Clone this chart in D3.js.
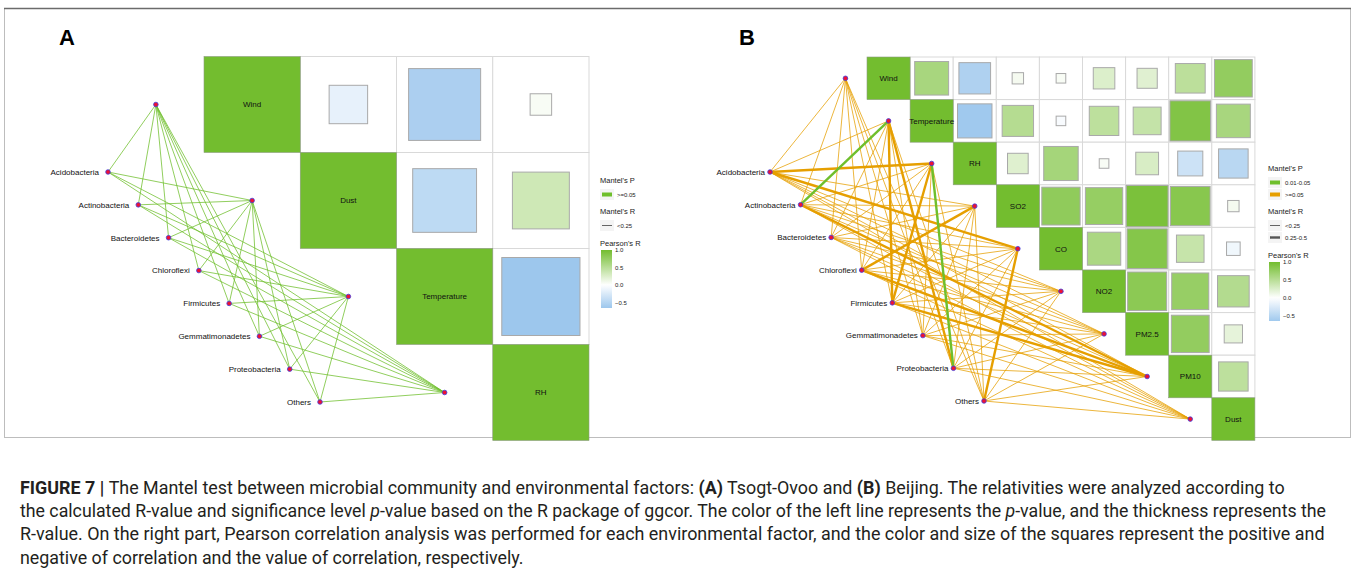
<!DOCTYPE html>
<html>
<head>
<meta charset="utf-8">
<script src="https://cdn.jsdelivr.net/npm/d3@7"></script>
<style>
  html, body { margin: 0; padding: 0; background: #ffffff; }
  svg { display: block; }
</style>
</head>
<body>
<svg id="fig" width="1355" height="579"></svg>
<script>
// ---------------- data ----------------
const species = ["Acidobacteria", "Actinobacteria", "Bacteroidetes", "Chloroflexi",
                 "Firmicutes", "Gemmatimonadetes", "Proteobacteria", "Others"];

// Panel A: Tsogt-Ovoo
const envA = ["Wind", "Dust", "Temperature", "RH"];
const pearsonA = [
  [1, -0.16, -0.56, 0.05],
  [null, 1, -0.44, 0.35],
  [null, null, 1, -0.66],
  [null, null, null, 1]
];
// Mantel r and p, rows = species, cols = envA
const mantelRA = [
  [0.12, 0.10, 0.14, 0.09],
  [0.08, 0.13, 0.11, 0.15],
  [0.10, 0.09, 0.12, 0.13],
  [0.11, 0.14, 0.10, 0.12],
  [0.09, 0.12, 0.13, 0.10],
  [0.13, 0.11, 0.09, 0.14],
  [0.10, 0.15, 0.12, 0.11],
  [0.07, 0.10, 0.08, 0.12]
];
const mantelPA = [
  [0.31, 0.42, 0.22, 0.55],
  [0.48, 0.26, 0.37, 0.19],
  [0.35, 0.51, 0.29, 0.24],
  [0.27, 0.18, 0.44, 0.33],
  [0.40, 0.30, 0.21, 0.46],
  [0.23, 0.36, 0.52, 0.17],
  [0.38, 0.15, 0.28, 0.34],
  [0.61, 0.41, 0.57, 0.30]
];

// Panel B: Beijing
const envB = ["Wind", "Temperature", "RH", "SO2", "CO", "NO2", "PM2.5", "PM10", "Dust"];
const pearsonB = [
  [1, 0.62, -0.54, 0.07, 0.05, 0.25, 0.22, 0.48, 0.77],
  [null, 1, -0.64, 0.53, -0.05, 0.47, 0.42, 0.89, 0.62],
  [null, null, 1, 0.23, 0.64, 0.05, 0.28, -0.34, -0.47],
  [null, null, null, 1, 0.79, 0.75, 0.94, 0.85, 0.07],
  [null, null, null, null, 1, 0.60, 0.87, 0.41, -0.10],
  [null, null, null, null, null, 1, 0.82, 0.74, 0.54],
  [null, null, null, null, null, null, 1, 0.77, 0.18],
  [null, null, null, null, null, null, null, 1, 0.47],
  [null, null, null, null, null, null, null, null, 1]
];
const mantelRB = [
  [0.12, 0.15, 0.31, 0.10, 0.27, 0.14, 0.11, 0.13, 0.09],
  [0.10, 0.33, 0.14, 0.12, 0.16, 0.13, 0.15, 0.29, 0.11],
  [0.08, 0.11, 0.13, 0.09, 0.12, 0.10, 0.14, 0.12, 0.07],
  [0.11, 0.14, 0.16, 0.28, 0.13, 0.12, 0.15, 0.26, 0.10],
  [0.09, 0.30, 0.27, 0.13, 0.15, 0.12, 0.14, 0.28, 0.11],
  [0.07, 0.10, 0.12, 0.08, 0.11, 0.09, 0.13, 0.10, 0.06],
  [0.10, 0.26, 0.29, 0.12, 0.14, 0.11, 0.13, 0.12, 0.08],
  [0.09, 0.13, 0.15, 0.11, 0.30, 0.12, 0.10, 0.14, 0.12]
];
const mantelPB = [
  [0.21, 0.34, 0.08, 0.45, 0.09, 0.27, 0.52, 0.31, 0.66],
  [0.48, 0.03, 0.29, 0.37, 0.22, 0.40, 0.18, 0.07, 0.55],
  [0.62, 0.41, 0.33, 0.58, 0.36, 0.49, 0.24, 0.39, 0.71],
  [0.35, 0.26, 0.19, 0.06, 0.30, 0.43, 0.28, 0.09, 0.50],
  [0.57, 0.07, 0.08, 0.32, 0.25, 0.38, 0.30, 0.06, 0.44],
  [0.69, 0.47, 0.36, 0.61, 0.42, 0.53, 0.27, 0.46, 0.74],
  [0.40, 0.09, 0.04, 0.33, 0.28, 0.45, 0.34, 0.37, 0.63],
  [0.51, 0.30, 0.22, 0.42, 0.07, 0.36, 0.48, 0.29, 0.39]
];

const pearsonTicks = [1.0, 0.5, 0.0, -0.5];
const pLevels = ["0.01-0.05", ">=0.05"];
const rLevels = ["<0.25", "0.25-0.5"];

const captionLines = [
  [["FIGURE 7 | ", "b"], ["The Mantel test between microbial community and environmental factors: ", ""], ["(A)", "b"], [" Tsogt-Ovoo and ", ""], ["(B)", "b"], [" Beijing. The relativities were analyzed according to", ""]],
  [["the calculated R-value and significance level ", ""], ["p", "i"], ["-value based on the R package of ggcor. The color of the left line represents the ", ""], ["p", "i"], ["-value, and the thickness represents the", ""]],
  [["R-value. On the right part, Pearson correlation analysis was performed for each environmental factor, and the color and size of the squares represent the positive and", ""]],
  [["negative of correlation and the value of correlation, respectively.", ""]]
];

// ---------------- styling ----------------
const FONT = "'Liberation Sans', Arial, Helvetica, sans-serif";
const GREEN = "#6fbf2c";
const ORANGE = "#e69f00";
const fillScale = d3.scaleLinear().domain([-1, 0, 1])
  .range(["#6aaae4", "#ffffff", "#73bd2f"]).interpolate(d3.interpolateRgb);

const pCat = p => p < 0.01 ? "<0.01" : (p < 0.05 ? "0.01-0.05" : ">=0.05");
const rCat = r => r < 0.25 ? "<0.25" : (r < 0.5 ? "0.25-0.5" : ">=0.5");
const widthOf = d3.scaleOrdinal().domain(["<0.25", "0.25-0.5", ">=0.5"]).range([0.9, 2.4, 3.6]);

const svg = d3.select("#fig");

// figure frame
svg.append("rect").attr("x", 4.5).attr("y", 8.5).attr("width", 1346).attr("height", 429)
  .attr("fill", "none").attr("stroke", "#bdbdbd").attr("stroke-width", 1);
svg.append("line").attr("x1", 4).attr("x2", 1351).attr("y1", 8.5).attr("y2", 8.5)
  .attr("stroke", "#6b6b6b").attr("stroke-width", 1.6);

function drawPanel(cfg) {
  const g = svg.append("g");
  const env = cfg.env, n = env.length;
  const x = d3.scaleBand().domain(env).range([cfg.heat.x, cfg.heat.x + n * cfg.heat.w]);
  const y = d3.scaleBand().domain(env).range([cfg.heat.y, cfg.heat.y + n * cfg.heat.h]);
  const bw = x.bandwidth(), bh = y.bandwidth();

  const cells = [];
  cfg.pearson.forEach((row, i) => row.forEach((v, j) => {
    if (v !== null) cells.push({ row: env[i], col: env[j], r: v, diag: i === j });
  }));

  // grid for the upper triangle
  g.append("g").selectAll("rect").data(cells.filter(c => !c.diag)).join("rect")
    .attr("x", c => x(c.col)).attr("y", c => y(c.row))
    .attr("width", bw).attr("height", bh)
    .attr("fill", "#ffffff").attr("stroke", "#d9d9d9").attr("stroke-width", 1);

  // correlation squares, side proportional to sqrt(|r|)
  g.append("g").selectAll("rect").data(cells).join("rect")
    .attr("x", c => x(c.col) + bw * (1 - Math.sqrt(Math.abs(c.r))) / 2)
    .attr("y", c => y(c.row) + bh * (1 - Math.sqrt(Math.abs(c.r))) / 2)
    .attr("width", c => bw * Math.sqrt(Math.abs(c.r)))
    .attr("height", c => bh * Math.sqrt(Math.abs(c.r)))
    .attr("fill", c => fillScale(c.r))
    .attr("stroke", c => c.diag ? "#8c9c80" : "#a9a9a9").attr("stroke-width", c => c.diag ? 0.6 : 1);

  // diagonal labels
  g.append("g").selectAll("text").data(cells.filter(c => c.diag)).join("text")
    .attr("x", c => x(c.col) + bw / 2).attr("y", c => y(c.row) + bh / 2)
    .attr("dy", "0.35em").attr("text-anchor", "middle")
    .attr("font-family", FONT).attr("font-size", 8).attr("fill", "#111")
    .text(c => c.col);

  // node layout
  const envX = e => x(e) + bw / 2 - bw;
  const envY = e => y(e) + bh / 2;
  const spX = d3.scalePoint().domain(species).range([cfg.sp.x0, cfg.sp.x1]);
  const spY = d3.scalePoint().domain(species).range([cfg.sp.y0, cfg.sp.y1]);

  const colorOf = d3.scaleOrdinal().domain(cfg.pLevels).range(cfg.pColors);

  const links = [];
  species.forEach((s, i) => env.forEach((e, j) => {
    links.push({ s, e, r: cfg.mantelR[i][j], p: cfg.mantelP[i][j] });
  }));
  // thin links first, thick ones on top
  links.sort((a, b) => a.r - b.r);

  g.append("g").attr("fill", "none").selectAll("line").data(links).join("line")
    .attr("x1", d => spX(d.s)).attr("y1", d => spY(d.s))
    .attr("x2", d => envX(d.e)).attr("y2", d => envY(d.e))
    .attr("stroke", d => colorOf(pCat(d.p)))
    .attr("stroke-width", d => widthOf(rCat(d.r)))
    .attr("stroke-opacity", d => rCat(d.r) === "<0.25" ? 0.85 : 1);

  const nodes = species.map(s => ({ x: spX(s), y: spY(s) }))
    .concat(env.map(e => ({ x: envX(e), y: envY(e) })));
  g.append("g").selectAll("circle").data(nodes).join("circle")
    .attr("cx", d => d.x).attr("cy", d => d.y).attr("r", 2.3)
    .attr("fill", "#ee1133").attr("stroke", "#3d3de0").attr("stroke-width", 0.8);

  g.append("g").selectAll("text").data(species).join("text")
    .attr("x", s => spX(s) - cfg.labelGap).attr("y", s => spY(s))
    .attr("dy", "0.35em").attr("text-anchor", "end")
    .attr("font-family", FONT).attr("font-size", 8).attr("fill", "#111")
    .text(s => s);

  // panel letter
  g.append("text").attr("x", cfg.letter.x).attr("y", cfg.letter.y)
    .attr("font-family", FONT).attr("font-weight", "bold").attr("font-size", 22)
    .attr("fill", "#000").text(cfg.letter.t);

  // legend
  const L = cfg.legend;
  const lg = g.append("g").attr("font-family", FONT).attr("fill", "#222");
  let yy = L.y;
  lg.append("text").attr("x", L.x).attr("y", yy).attr("font-size", 7.5).text("Mantel's P");
  yy += 6;
  cfg.pLevels.forEach(lv => {
    lg.append("rect").attr("x", L.x).attr("y", yy).attr("width", 14).attr("height", 11).attr("fill", "#f4f4f4");
    lg.append("rect").attr("x", L.x + 2).attr("y", yy + 3.5).attr("width", 10).attr("height", 4).attr("fill", colorOf(lv));
    lg.append("text").attr("x", L.x + 17).attr("y", yy + 5.5).attr("dy", "0.35em").attr("font-size", 6).text(lv);
    yy += 12;
  });
  yy += 13;
  lg.append("text").attr("x", L.x).attr("y", yy).attr("font-size", 7.5).text("Mantel's R");
  yy += 6;
  cfg.rLevels.forEach(lv => {
    lg.append("rect").attr("x", L.x).attr("y", yy).attr("width", 14).attr("height", 11).attr("fill", "#f4f4f4");
    lg.append("line").attr("x1", L.x + 2).attr("x2", L.x + 12).attr("y1", yy + 5.5).attr("y2", yy + 5.5)
      .attr("stroke", "#555").attr("stroke-width", widthOf(lv));
    lg.append("text").attr("x", L.x + 17).attr("y", yy + 5.5).attr("dy", "0.35em").attr("font-size", 6).text(lv);
    yy += 12;
  });
  yy += 14;
  lg.append("text").attr("x", L.x).attr("y", yy).attr("font-size", 7.5).text("Pearson's R");
  yy += 4;
  const allR = cells.map(c => c.r);
  const rMin = d3.min(allR), rMax = d3.max(allR);
  const barH = L.barH;
  const cb = d3.scaleLinear().domain([rMax, rMin]).range([yy, yy + barH]);
  const gradId = "grad" + cfg.letter.t;
  const grad = svg.append("defs").append("linearGradient").attr("id", gradId)
    .attr("x1", 0).attr("x2", 0).attr("y1", 0).attr("y2", 1);
  d3.range(0, 1.0001, 0.05).forEach(t => {
    grad.append("stop").attr("offset", t).attr("stop-color", fillScale(rMax + (rMin - rMax) * t));
  });
  lg.append("rect").attr("x", L.x + 1).attr("y", yy).attr("width", 11).attr("height", barH)
    .attr("fill", `url(#${gradId})`);
  lg.selectAll("text.tick").data(pearsonTicks).join("text").attr("class", "tick")
    .attr("x", L.x + 15).attr("y", v => cb(v)).attr("dy", "0.35em").attr("font-size", 6)
    .text(v => d3.format(".1f")(v));
}

drawPanel({
  env: envA, pearson: pearsonA, mantelR: mantelRA, mantelP: mantelPA,
  heat: { x: 204, y: 56.5, w: 96.25, h: 96 },
  sp: { x0: 108, y0: 172, x1: 320, y1: 402 },
  labelGap: 9,
  pLevels: [">=0.05"], pColors: [GREEN],
  rLevels: ["<0.25"],
  letter: { x: 59, y: 45, t: "A" },
  legend: { x: 600, y: 183, barH: 58 }
});

drawPanel({
  env: envB, pearson: pearsonB, mantelR: mantelRB, mantelP: mantelPB,
  heat: { x: 867, y: 57, w: 43.1, h: 42.6 },
  sp: { x0: 770, y0: 172, x1: 984, y1: 401 },
  labelGap: 5,
  pLevels: pLevels, pColors: [GREEN, ORANGE],
  rLevels: rLevels,
  letter: { x: 739, y: 45, t: "B" },
  legend: { x: 1268, y: 171, barH: 59 }
});

// caption: a condensed sans, so each line is drawn at 18px and
// squeezed horizontally to the measure of the column
const capWidths = [1265, 1307, 1305];
const cap = svg.append("g").attr("font-family", "Roboto, 'Liberation Sans', sans-serif")
  .attr("font-size", 18).attr("fill", "#231f20");
const capTexts = captionLines.map((line, i) => {
  const t = cap.append("text").attr("x", 0).attr("y", 0);
  line.forEach(([txt, st]) => {
    t.append("tspan").text(txt)
      .attr("font-weight", st === "b" ? "bold" : null)
      .attr("font-style", st === "i" ? "italic" : null);
  });
  return t;
});
const natural = capTexts.map(t => t.node().getComputedTextLength());
const sx = capWidths.map((w, i) => w / natural[i]);
const sxMean = d3.mean(sx);
capTexts.forEach((t, i) => {
  const s = i < sx.length ? sx[i] : sxMean;
  t.attr("transform", `translate(20,${494 + i * 23.2}) scale(${s},1)`);
});
</script>
</body>
</html>
